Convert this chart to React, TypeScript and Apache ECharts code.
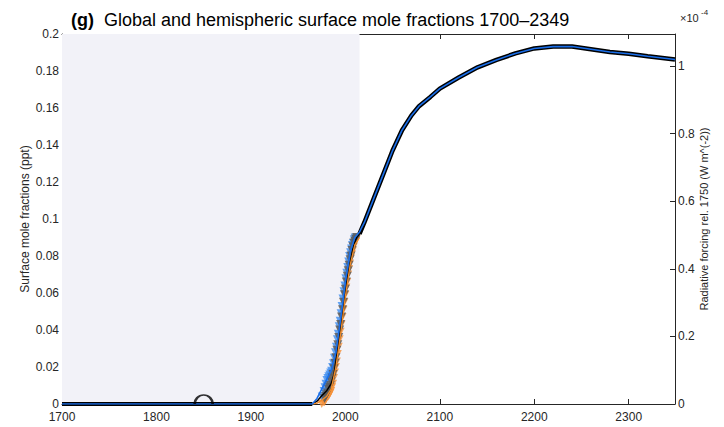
import React, { useEffect, useRef } from "react";
import * as echarts from "echarts";

// Global mean, historical (thin black line) – years and mole fraction (ppt)
const histYears = [1700, 1750, 1800, 1850, 1900, 1950, 1965, 1970, 1975, 1980, 1985, 1988, 1990, 1993, 1995, 1998, 2000, 2002, 2005, 2008, 2010, 2012, 2015];
const histValues = [0, 0, 0, 0, 0, 0, 0, 0.0015, 0.0045, 0.007, 0.011, 0.016, 0.023, 0.034, 0.041, 0.052, 0.06, 0.068, 0.076, 0.084, 0.0875, 0.09, 0.092];

// Global mean, projection (thick black line)
const projYears = [2015, 2020, 2030, 2040, 2050, 2060, 2070, 2078, 2090, 2100, 2120, 2140, 2160, 2180, 2200, 2220, 2240, 2260, 2280, 2300, 2320, 2349];
const projValues = [0.092, 0.098, 0.111, 0.124, 0.137, 0.148, 0.156, 0.161, 0.166, 0.1705, 0.1765, 0.182, 0.186, 0.1895, 0.1922, 0.1932, 0.1932, 0.1918, 0.1903, 0.1893, 0.188, 0.1862];

// Northern hemisphere (blue line)
const nhYears = [1700, 1750, 1800, 1850, 1900, 1950, 1965, 1970, 1975, 1980, 1985, 1990, 1995, 2000, 2005, 2010, 2015, 2020, 2030, 2040, 2050, 2060, 2070, 2078, 2090, 2100, 2120, 2140, 2160, 2180, 2200, 2220, 2240, 2260, 2280, 2300, 2320, 2349];
const nhValues = [0, 0, 0, 0, 0, 0, 0, 0.003, 0.008, 0.013, 0.018, 0.028, 0.046, 0.066, 0.082, 0.09, 0.093, 0.098, 0.111, 0.124, 0.137, 0.148, 0.156, 0.161, 0.166, 0.1705, 0.1765, 0.182, 0.186, 0.1895, 0.1922, 0.1932, 0.1932, 0.1918, 0.1903, 0.1893, 0.188, 0.1862];

// Southern hemisphere (orange line)
const shYears = [1965, 1970, 1975, 1980, 1985, 1990, 1995, 2000, 2005, 2010, 2015];
const shValues = [0, 0.0005, 0.002, 0.004, 0.008, 0.02, 0.038, 0.058, 0.075, 0.086, 0.09];

// Observations (markers)
const obsGlobalYears = [1978, 1979, 1980, 1981, 1982, 1983, 1984, 1985, 1986, 1987, 1988, 1989, 1990, 1991, 1992, 1993, 1994, 1995, 1996, 1997, 1998, 1999, 2000, 2001, 2002, 2003, 2004, 2005, 2006, 2007, 2008, 2009, 2010, 2011, 2012];
const obsGlobalValues = [0.003, 0.004, 0.005, 0.006, 0.008, 0.009, 0.01, 0.012, 0.014, 0.016, 0.019, 0.022, 0.025, 0.029, 0.032, 0.036, 0.04, 0.043, 0.047, 0.051, 0.055, 0.059, 0.062, 0.066, 0.069, 0.072, 0.075, 0.078, 0.08, 0.083, 0.085, 0.087, 0.088, 0.089, 0.09];
const obsNhYears = [1975, 1977, 1978, 1979, 1980, 1981, 1982, 1983, 1984, 1985, 1986, 1987, 1988, 1989, 1990, 1991, 1992, 1993, 1994, 1995, 1996, 1997, 1998, 1999, 2000, 2001, 2002, 2003, 2004, 2005, 2006, 2007, 2008, 2009, 2010];
const obsNhValues = [0.004, 0.007, 0.009, 0.011, 0.013, 0.014, 0.015, 0.016, 0.017, 0.018, 0.02, 0.022, 0.025, 0.028, 0.031, 0.035, 0.038, 0.042, 0.045, 0.049, 0.053, 0.057, 0.061, 0.064, 0.068, 0.071, 0.074, 0.077, 0.08, 0.082, 0.084, 0.086, 0.087, 0.089, 0.09];
const obsShYears = [1975, 1977, 1978, 1979, 1980, 1981, 1982, 1983, 1984, 1985, 1986, 1987, 1988, 1989, 1990, 1991, 1992, 1993, 1994, 1995, 1996, 1997, 1998, 1999, 2000, 2001, 2002, 2003, 2004, 2005, 2006, 2007, 2008, 2009, 2010, 2011, 2012];
const obsShValues = [0, 0.001, 0.001, 0.002, 0.003, 0.004, 0.004, 0.005, 0.006, 0.007, 0.009, 0.011, 0.014, 0.017, 0.02, 0.023, 0.027, 0.031, 0.035, 0.039, 0.043, 0.047, 0.051, 0.055, 0.059, 0.063, 0.066, 0.07, 0.073, 0.076, 0.079, 0.081, 0.083, 0.085, 0.087, 0.088, 0.089];

// Pre-industrial reference point
const refYear = [1850];
const refValue = [0];

// Shaded historical period
const shadeStart = 1700;
const shadeEnd = 2015;

const zip = (xs: number[], ys: number[]) => xs.map((x, i) => [x, ys[i]]);

const FONT = "Liberation Sans";
const AX = "#262626";

export default function App() {
  const ref = useRef<HTMLDivElement>(null);
  useEffect(() => {
    if (!ref.current) return;
    const chart = echarts.init(ref.current, null, { renderer: "svg" });
    const tickCommon = { inside: true, length: 5, lineStyle: { color: AX, width: 1 } };
    chart.setOption({
      animation: false,
      backgroundColor: "#ffffff",
      textStyle: { fontFamily: FONT },
      grid: { left: 62, right: 49, top: 34, bottom: 23, show: false },
      title: {
        left: 66,
        top: 6,
        text: "{b|(g)}  {n|Global and hemispheric surface mole fractions 1700–2349}",
        textStyle: {
          fontWeight: "normal",
          rich: {
            b: { fontFamily: FONT, fontSize: 18, fontWeight: "bold", color: "#000" },
            n: { fontFamily: FONT, fontSize: 18, fontWeight: "normal", color: "#000" },
          },
        },
      },
      graphic: [
        { type: "text", left: 680, top: 12, style: { text: "×10", font: `11px ${FONT}`, fill: AX } },
        { type: "text", left: 701, top: 8, style: { text: "-4", font: `8px ${FONT}`, fill: AX } },
      ],
      xAxis: [
        {
          type: "value",
          min: 1700,
          max: 2349,
          interval: 100,
          position: "bottom",
          axisLine: { show: true, onZero: false, lineStyle: { color: AX, width: 1 } },
          axisTick: tickCommon,
          splitLine: { show: false },
          axisLabel: {
            color: AX,
            fontSize: 12,
            fontFamily: FONT,
            margin: 7,
            formatter: (v: number) => (v % 100 === 0 ? String(v) : ""),
          },
        },
        {
          type: "value",
          min: 1700,
          max: 2349,
          interval: 100,
          position: "top",
          axisLine: { show: true, onZero: false, lineStyle: { color: AX, width: 1 } },
          axisTick: tickCommon,
          splitLine: { show: false },
          axisLabel: { show: false },
        },
      ],
      yAxis: [
        {
          type: "value",
          min: 0,
          max: 0.2,
          interval: 0.02,
          position: "left",
          name: "Surface mole fractions (ppt)",
          nameLocation: "middle",
          nameRotate: 90,
          nameGap: 31,
          nameMoveOverlap: false,
          nameTextStyle: { color: AX, fontSize: 12, fontFamily: FONT },
          axisLine: { show: true, onZero: false, lineStyle: { color: AX, width: 1 } },
          axisTick: tickCommon,
          splitLine: { show: false },
          axisLabel: { color: AX, fontSize: 12, fontFamily: FONT, margin: 3 },
        },
        {
          type: "value",
          min: 0,
          max: 1.0947,
          interval: 0.2,
          position: "right",
          name: "Radiative forcing rel. 1750 (W m^(-2))",
          nameLocation: "middle",
          nameRotate: 90,
          nameGap: 23,
          nameMoveOverlap: false,
          nameTextStyle: { color: AX, fontSize: 11, fontFamily: FONT },
          axisLine: { show: true, onZero: false, lineStyle: { color: AX, width: 1 } },
          axisTick: tickCommon,
          splitLine: { show: false },
          axisLabel: {
            color: AX,
            fontSize: 12,
            fontFamily: FONT,
            margin: 3,
            formatter: (v: number) => {
              const r = Math.round(v * 10) / 10;
              if (Math.abs(v - r) > 1e-6) return "";
              return String(r);
            },
          },
        },
      ],
      series: [
        {
          type: "line",
          z: 1,
          data: [],
          markArea: {
            silent: true,
            itemStyle: { color: "#f2f2f8" },
            data: [[{ xAxis: shadeStart }, { xAxis: shadeEnd }]],
          },
        },
        {
          type: "scatter",
          z: 2,
          data: zip(obsShYears, obsShValues),
          symbol: "triangle",
          symbolRotate: 180,
          symbolSize: 8,
          itemStyle: { color: "#f5913a", opacity: 0.8 },
        },
        {
          type: "scatter",
          z: 2,
          data: zip(obsNhYears, obsNhValues),
          symbol: "triangle",
          symbolRotate: 180,
          symbolSize: 8,
          itemStyle: { color: "#3d8df0", opacity: 0.8 },
        },
        {
          type: "scatter",
          z: 3,
          data: zip(obsGlobalYears, obsGlobalValues),
          symbol: "triangle",
          symbolRotate: 180,
          symbolSize: 9,
          itemStyle: { color: "#5a5a5a", opacity: 0.85 },
        },
        {
          type: "line",
          z: 4,
          data: zip(histYears, histValues),
          showSymbol: false,
          lineStyle: { color: "#000000", width: 1.5 },
        },
        {
          type: "line",
          z: 4,
          data: zip(projYears, projValues),
          showSymbol: false,
          lineStyle: { color: "#000000", width: 4.5 },
        },
        {
          type: "line",
          z: 5,
          data: zip(shYears, shValues),
          showSymbol: false,
          lineStyle: { color: "#f28c28", width: 1.3 },
        },
        {
          type: "line",
          z: 6,
          data: zip(nhYears, nhValues),
          showSymbol: false,
          lineStyle: { color: "#1a6ee8", width: 1.6 },
        },
        {
          type: "line",
          z: 4,
          data: zip(histYears.slice(0, 7), histValues.slice(0, 7)),
          showSymbol: false,
          lineStyle: { color: "#000000", width: 4 },
        },
        {
          type: "scatter",
          z: 7,
          data: zip(refYear, refValue),
          symbol: "path://M0,10 A10,10 0 0 1 20,10",
          symbolSize: [18, 9],
          symbolOffset: [0, -4.5],
          itemStyle: { color: "none", borderColor: "#000", borderWidth: 2 },
        },
      ],
    });
    return () => chart.dispose();
  }, []);
  return (
    <div
      ref={ref}
      style={{ position: "fixed", left: 0, top: 0, width: 724, height: 427 }}
    />
  );
}
